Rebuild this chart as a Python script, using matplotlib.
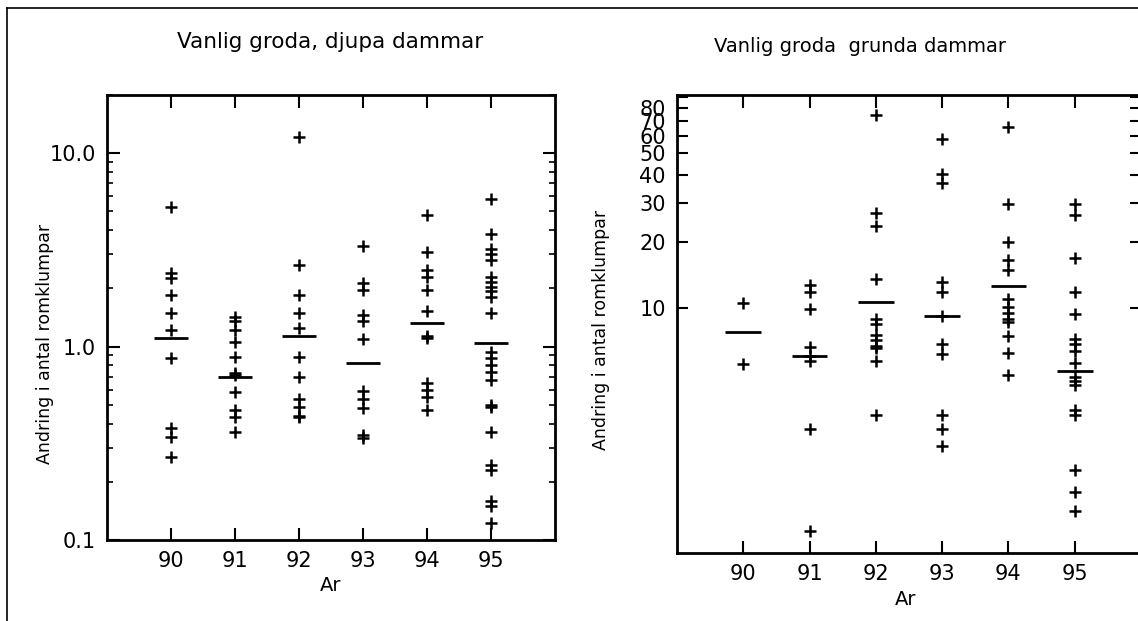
import matplotlib
matplotlib.use("Agg")
import matplotlib.pyplot as plt
from matplotlib.ticker import FixedLocator, FixedFormatter, LogLocator, NullLocator, NullFormatter
from matplotlib.lines import Line2D

# ---------------- data ----------------
years = [90, 91, 92, 93, 94, 95]
year_labels = ["90", "91", "92", "93", "94", "95"]

# Left panel: Vanlig groda, djupa dammar
deep_90 = [5.3, 2.4, 2.26, 1.85, 1.49, 1.22, 0.87, 0.38, 0.34, 0.27]
deep_91 = [1.43, 1.36, 1.22, 1.06, 0.885, 0.73, 0.71, 0.585, 0.47, 0.435, 0.36]
deep_92 = [12.1, 2.64, 1.85, 1.50, 1.25, 0.88, 0.70, 0.535, 0.49, 0.44, 0.43]
deep_93 = [3.3, 2.14, 1.96, 1.46, 1.35, 1.09, 0.59, 0.535, 0.48, 0.35, 0.335]
deep_94 = [4.8, 3.1, 2.5, 2.28, 1.96, 1.52, 1.13, 1.11, 0.65, 0.60, 0.55, 0.47]
deep_95 = [5.8, 3.8, 3.2, 3.0, 2.8, 2.3, 2.17, 2.04, 1.95, 1.81, 1.5, 0.94, 0.87,
           0.80, 0.74, 0.67, 0.50, 0.49, 0.36, 0.245, 0.23, 0.16, 0.15, 0.123]
deep_median = [1.11, 0.70, 1.14, 0.82, 1.32, 1.05]

# Right panel: Vanlig groda grunda dammar
shallow_90 = [10.6, 5.6]
shallow_91 = [12.8, 11.9, 9.9, 6.7, 6.1, 5.8, 2.85, 0.99]
shallow_92 = [74.6, 26.9, 23.6, 13.5, 9.0, 8.5, 7.6, 7.2, 6.8, 6.6, 5.8, 3.3]
shallow_93 = [58.0, 40.5, 36.9, 13.1, 11.9, 9.2, 6.9, 6.2, 3.3, 2.85, 2.4]
shallow_94 = [65.6, 29.7, 20.0, 16.6, 14.9, 11.0, 10.1, 9.5, 9.0, 8.7, 7.5, 6.3, 5.0]
shallow_95 = [29.5, 26.4, 16.8, 11.9, 9.4, 7.3, 6.9, 6.45, 5.7, 4.9, 4.7, 4.5,
              3.5, 3.3, 1.86, 1.49, 1.22]
shallow_median = [7.8, 6.1, 10.7, 9.2, 12.6, 5.2]

left_yticks = [0.1, 1.0, 10.0]
left_yticklabels = ["0.1", "1.0", "10.0"]
right_yticks = [10, 20, 30, 40, 50, 60, 70, 80, 90]
right_yticklabels = ["10", "20", "30", "40", "50", "60", "70", "80", ""]

title_left = "Vanlig groda, djupa dammar"
title_right = "Vanlig groda  grunda dammar"
ylabel = "Andring i antal romklumpar"
xlabel = "Ar"

# ---------------- figure ----------------
plt.rcParams['font.family'] = ['DejaVu Sans']
W, H = 1138, 621
fig = plt.figure(figsize=(W / 100, H / 100), dpi=100)
fig.patch.set_facecolor("white")


def px_axes(x0, y0, x1, y1):
    return fig.add_axes([x0 / W, 1 - y1 / H, (x1 - x0) / W, (y1 - y0) / H])


axL = px_axes(107, 95, 555, 540)
axR = px_axes(677, 95, 1141, 553)

deep = [deep_90, deep_91, deep_92, deep_93, deep_94, deep_95]
shallow = [shallow_90, shallow_91, shallow_92, shallow_93, shallow_94, shallow_95]

for ax, groups, med in ((axL, deep, deep_median), (axR, shallow, shallow_median)):
    for yr, vals in zip(years, groups):
        ax.plot([yr] * len(vals), vals, linestyle="none", marker="+",
                ms=8, mew=1.8, color="black")
    ax.hlines(med, [y - 0.27 for y in years], [y + 0.27 for y in years],
              colors="black", lw=2.0)
    ax.set_yscale("log")
    ax.set_xlim(89, 96)
    ax.set_xticks(years)
    ax.set_xticklabels(year_labels, fontsize=15)
    for s in ax.spines.values():
        s.set_linewidth(2.0)
    ax.tick_params(axis="x", which="major", direction="in", top=True, bottom=True,
                   length=9, width=1.5, pad=8)

# left panel y axis
axL.set_ylim(0.1, 20)
axL.yaxis.set_major_locator(FixedLocator(left_yticks))
axL.yaxis.set_major_formatter(FixedFormatter(left_yticklabels))
axL.yaxis.set_minor_locator(LogLocator(base=10, subs=[2, 3, 4, 5, 6, 7, 8, 9]))
axL.yaxis.set_minor_formatter(NullFormatter())
axL.tick_params(axis="y", which="major", direction="in", left=True, right=True,
                length=9, width=1.5, labelsize=15, pad=8)
axL.tick_params(axis="y", which="minor", direction="in", left=True, right=True,
                length=4, width=1.2)
axL.set_ylabel(ylabel, fontsize=12.5)
axL.yaxis.set_label_coords(-0.118, 0.44)
axL.set_xlabel(xlabel, fontsize=14)
axL.xaxis.set_label_coords(0.498, -0.081)

# right panel y axis
axR.set_ylim(0.79, 91.6)
axR.yaxis.set_major_locator(FixedLocator(right_yticks))
axR.yaxis.set_major_formatter(FixedFormatter(right_yticklabels))
axR.yaxis.set_minor_locator(NullLocator())
axR.tick_params(axis="y", which="major", direction="in", left=True, right=True,
                length=8, width=1.5, labelsize=15, pad=8)
axR.set_ylabel(ylabel, fontsize=12.5)
axR.yaxis.set_label_coords(-0.144, 0.487)
axR.set_xlabel(xlabel, fontsize=14)
axR.xaxis.set_label_coords(0.492, -0.081)

# titles
fig.text(330 / W, 1 - 42 / H, title_left, ha="center", va="center", fontsize=15.5)
fig.text(860 / W, 1 - 47 / H, title_right, ha="center", va="center", fontsize=14)

# outer frame (scan border)
fig.add_artist(Line2D([7 / W, 7 / W], [0, 1 - 8 / H], color="black", lw=1.2,
                      transform=fig.transFigure))
fig.add_artist(Line2D([7 / W, 1], [1 - 8 / H, 1 - 8 / H], color="black", lw=1.2,
                      transform=fig.transFigure))

fig.savefig("out.png", dpi=100)
